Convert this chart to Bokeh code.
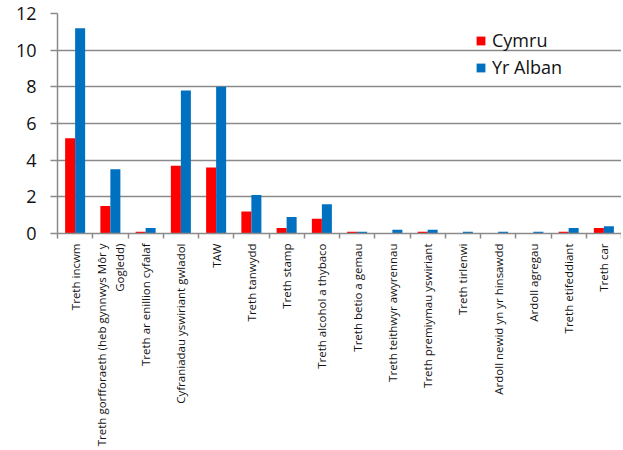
import math
from bokeh.plotting import figure
from bokeh.models import ColumnDataSource, Range1d, FixedTicker, Legend, LegendItem
from bokeh.transform import dodge
from bokeh.embed import file_html
from bokeh.resources import INLINE

categories = [
    "Treth incwm",
    "Treth gorfforaeth (heb gynnwys Môr y\nGogledd)",
    "Treth ar enillion cyfalaf",
    "Cyfraniadau yswiriant gwladol",
    "TAW",
    "Treth tanwydd",
    "Treth stamp",
    "Treth alcohol a thybaco",
    "Treth betio a gemau",
    "Treth teithwyr awyrennau",
    "Treth premiymau yswiriant",
    "Treth tirlenwi",
    "Ardoll newid yn yr hinsawdd",
    "Ardoll agregau",
    "Treth etifeddiant",
    "Treth car",
]
cymru = [5.2, 1.5, 0.1, 3.7, 3.6, 1.2, 0.3, 0.8, 0.1, 0.0, 0.1, 0.0, 0.0, 0.0, 0.1, 0.3]
yr_alban = [11.2, 3.5, 0.3, 7.8, 8.0, 2.1, 0.9, 1.6, 0.1, 0.2, 0.2, 0.1, 0.1, 0.1, 0.3, 0.4]
y_ticks = [0, 2, 4, 6, 8, 10, 12]

FONT = "Open Sans"
GRID = "#8a8a8a"

n = len(categories)
centers = [i + 0.5 for i in range(n)]
bounds = list(range(n + 1))
source = ColumnDataSource(dict(x=centers, cymru=cymru, alban=yr_alban))

p = figure(x_range=Range1d(0, n), y_range=Range1d(0, 12),
           frame_width=564, frame_height=220,
           output_backend="svg", toolbar_location=None,
           min_border_left=57, min_border_right=0, min_border_top=13, min_border_bottom=0)
p.outline_line_color = None
p.background_fill_color = "white"

r1 = p.vbar(x=dodge("x", -0.142), top="cymru", width=0.284,
            source=source, fill_color="#ff0000", line_color=None)
r2 = p.vbar(x=dodge("x", 0.142), top="alban", width=0.284,
            source=source, fill_color="#0070c0", line_color=None)

# y axis
yax = p.yaxis[0]
yax.ticker = FixedTicker(ticks=y_ticks)
yax.major_label_text_font = FONT
yax.major_label_text_font_size = "18px"
yax.major_label_text_color = "#111111"
yax.axis_line_color = GRID
yax.axis_line_width = 1.5
yax.major_tick_line_color = GRID
yax.major_tick_line_width = 1.5
yax.major_tick_out = 7
yax.major_tick_in = 0
yax.minor_tick_line_color = None
yax.major_label_standoff = 14

p.ygrid.grid_line_color = GRID
p.ygrid.grid_line_width = 1.5
p.xgrid.grid_line_color = None

# x axis: labels at category centres, minor ticks at category boundaries
xa = p.xaxis[0]
xa.ticker = FixedTicker(ticks=centers, minor_ticks=bounds)
xa.major_label_overrides = {c: lab for c, lab in zip(centers, categories)}
xa.axis_line_color = GRID
xa.axis_line_width = 1.5
xa.major_tick_line_color = None
xa.major_tick_out = 0
xa.major_tick_in = 0
xa.minor_tick_line_color = GRID
xa.minor_tick_line_width = 1.5
xa.minor_tick_out = 5
xa.minor_tick_in = 0
xa.major_label_orientation = math.pi / 2
xa.major_label_text_font = FONT
xa.major_label_text_font_size = "11.5px"
xa.major_label_text_color = "#111111"
xa.major_label_standoff = 5

legend = Legend(items=[LegendItem(label="Cymru", renderers=[r1]),
                       LegendItem(label="Yr Alban", renderers=[r2])],
                location=(418, 154))
legend.border_line_color = None
legend.background_fill_alpha = 0
legend.padding = 0
legend.margin = 0
legend.spacing = 3
legend.glyph_width = 11
legend.glyph_height = 11
legend.label_standoff = 6
legend.label_text_font = FONT
legend.label_text_font_size = "18px"
legend.label_text_color = "#111111"
legend.label_height = 20
p.add_layout(legend, "center")

open("out.html", "w").write(file_html(p, INLINE))
